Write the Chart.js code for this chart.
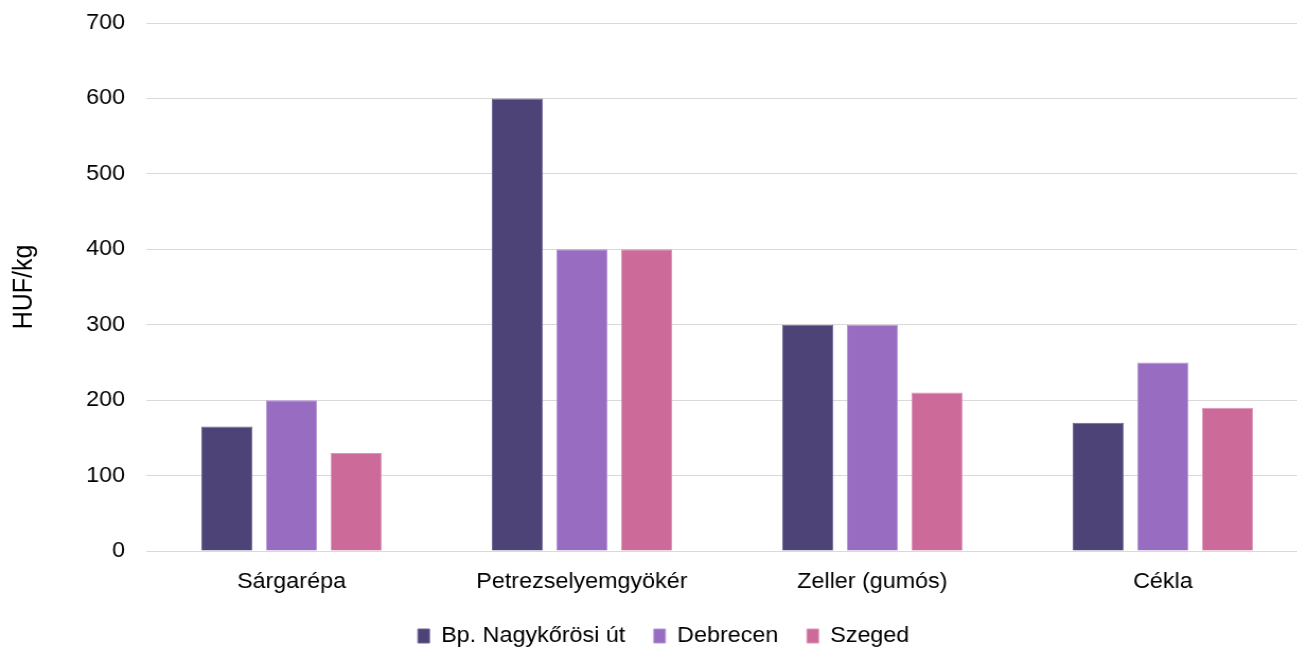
<!DOCTYPE html>
<html>
<head>
<meta charset="utf-8">
<script src="https://cdn.jsdelivr.net/npm/chart.js@4/dist/chart.umd.min.js"></script>
<style>
  html, body { margin: 0; padding: 0; background: #fff; overflow: hidden; }
  #wrap { position: absolute; left: 0; top: 0; width: 1236px; height: 648px; transform: scaleX(1.06); transform-origin: 0 0; }
</style>
</head>
<body>
<div id="wrap"><canvas id="grafica"></canvas></div>
<script>
const kategoriak = ["Sárgarépa", "Petrezselyemgyökér", "Zeller (gumós)", "Cékla"];
const bpNagykorosi = [165, 600, 300, 170];
const debrecen = [200, 400, 300, 250];
const szeged = [130, 400, 210, 190];
const yTicks = [0, 100, 200, 300, 400, 500, 600, 700];

const betu = { family: "'Liberation Sans', Arial, sans-serif", size: 22 };
const racs = '#d9d9d9';

function oszlop(nev, adat, szin, keret) {
    return {
        label: nev,
        data: adat,
        backgroundColor: szin,
        borderColor: keret,
        borderWidth: 1,
        categoryPercentage: 0.667,
        barPercentage: 0.79
    };
}

// a jelmagyarázat helyének finomítása
const legendHely = {
    id: 'legendHely',
    afterLayout(chart) {
        chart.legend.top -= 10;
        chart.legend.left += 9;
        chart.legend.right += 9;
    }
};

const ctx = document.getElementById("grafica").getContext("2d");
new Chart(ctx, {
    type: 'bar',
    data: {
        labels: kategoriak,
        datasets: [
            oszlop('Bp. Nagykőrösi út', bpNagykorosi, '#4e4376', '#6f6592'),
            oszlop('Debrecen', debrecen, '#976cc1', '#b698d6'),
            oszlop('Szeged', szeged, '#cc6a99', '#dc95b8')
        ]
    },
    plugins: [legendHely],
    options: {
        responsive: true,
        maintainAspectRatio: false,
        animation: false,
        layout: { padding: { top: 23, right: 2, left: 0, bottom: 0 } },
        plugins: {
            legend: {
                position: 'bottom',
                maxHeight: 40,
                labels: {
                    color: '#000',
                    font: betu,
                    boxWidth: 11,
                    boxHeight: 14,
                    padding: 27
                }
            },
            tooltip: { enabled: false }
        },
        scales: {
            x: {
                grid: { display: false },
                border: { display: true, color: racs },
                ticks: { color: '#000', font: betu, padding: 10, maxRotation: 0 },
                afterFit: (scale) => { scale.height = 57; }
            },
            y: {
                min: 0,
                max: 700,
                afterBuildTicks: (scale) => { scale.ticks = yTicks.map(v => ({ value: v })); },
                grid: { color: racs, drawTicks: false },
                border: { display: false },
                ticks: { color: '#000', font: betu, padding: 20 },
                title: {
                    display: true,
                    text: 'HUF/kg',
                    color: '#000',
                    font: { family: betu.family, size: 25 },
                    padding: { top: 8, bottom: 0 }
                },
                afterFit: (scale) => {
                    scale.width = 138;
                    scale.paddingTop = 0;
                    scale.paddingBottom = 0;
                }
            }
        }
    }
});
</script>
</body>
</html>
